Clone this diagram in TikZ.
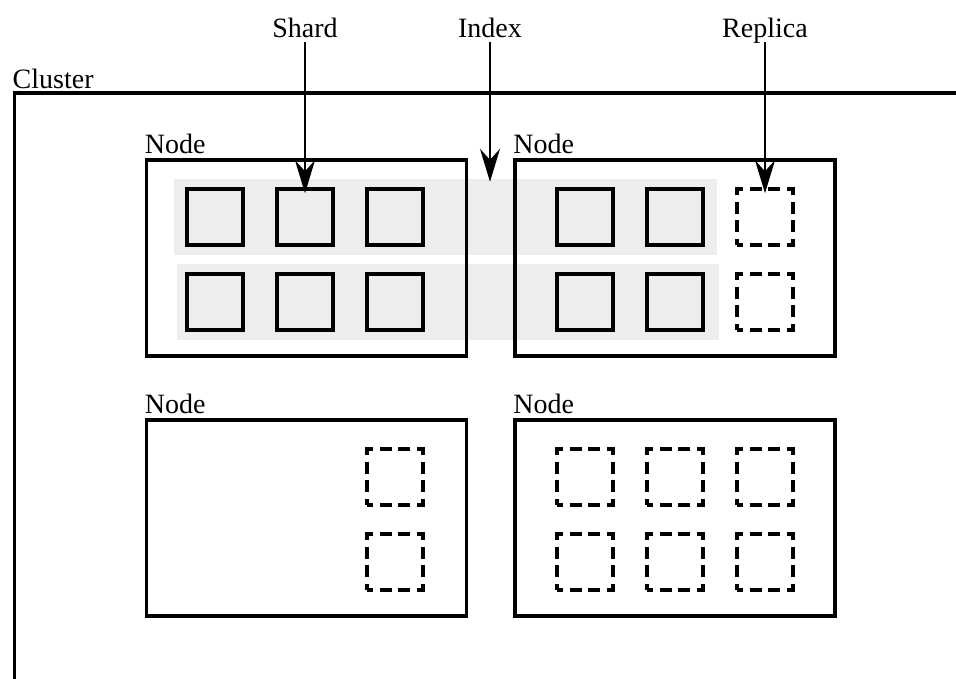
\documentclass[tikz,border=0pt]{standalone}
\usepackage{fontspec}
\setmainfont{Liberation Serif}
\usetikzlibrary{arrows.meta}

\begin{document}
\begin{tikzpicture}[x=1pt, y=-1pt,
  every node/.style={font=\fontsize{28}{32}\selectfont},
  nodebox/.style={draw, line width=3.5pt, minimum width=320pt, minimum height=196pt, inner sep=0pt},
  shardbox/.style={draw, line width=3.5pt, minimum size=56pt, inner sep=0pt},
  replicabox/.style={shardbox, dash pattern=on 12pt off 6.667pt, dash phase=6pt},
  band/.style={fill=black!7, inner sep=0pt, minimum height=76pt},
  caption/.style={anchor=base west, inner sep=0pt},
  title/.style={anchor=base, inner sep=0pt},
  pointer/.style={line width=2.2pt, -{Stealth[length=33pt, width=20pt, inset=11pt]}},
]
\useasboundingbox (0,0) rectangle (956,678);
\clip (0,0) rectangle (956,678);

% index bands spanning the two upper nodes
\node[band, minimum width=543pt] (band1) at (445.5,217) {};
\node[band, minimum width=542pt] (band2) at (448,302) {};

% cluster frame, running past the right and bottom edges
\coordinate (clustercorner) at (14.5,93);
\draw[line width=3.5pt] (clustercorner) rectangle (1000,720);
\node[caption] (clusterlabel) at ([xshift=-2pt, yshift=5pt]clustercorner) {Cluster};

% the four nodes
\node[nodebox] (n1) at (306.5,258) {};
\node[nodebox] (n2) at (675,258) {};
\node[nodebox] (n3) at (306.5,518) {};
\node[nodebox] (n4) at (675,518) {};
\foreach \n in {n1,n2,n3,n4}
  \node[caption] (\n label) at ([yshift=5pt]\n.north west) {Node};

% primary shards
\node[shardbox] (s11) at (215,217) {};
\node[shardbox] (s12) at (305,217) {};
\node[shardbox] (s13) at (395,217) {};
\node[shardbox] (s21) at (215,302) {};
\node[shardbox] (s22) at (305,302) {};
\node[shardbox] (s23) at (395,302) {};
\node[shardbox] (s14) at (585,217) {};
\node[shardbox] (s15) at (675,217) {};
\node[shardbox] (s24) at (585,302) {};
\node[shardbox] (s25) at (675,302) {};

% replicas
\node[replicabox] (r16) at (765,217) {};
\node[replicabox] (r26) at (765,302) {};
\node[replicabox] (r31) at (395,477) {};
\node[replicabox] (r32) at (395,562) {};
\node[replicabox] (r41) at (585,477) {};
\node[replicabox] (r42) at (675,477) {};
\node[replicabox] (r43) at (765,477) {};
\node[replicabox] (r44) at (585,562) {};
\node[replicabox] (r45) at (675,562) {};
\node[replicabox] (r46) at (765,562) {};

% labels with their pointers
\node[title] (shard) at (305,37) {Shard};
\node[title] (index) at (490,37) {Index};
\node[title] (replica) at (765,37) {Replica};

\draw[pointer, shorten <=5pt, shorten >=-6pt] (shard.base) -- (s12.north);
\draw[pointer, shorten <=5pt, shorten >=-3pt] (index.base) -- (index.base |- band1.north);
\draw[pointer, shorten <=5pt, shorten >=-6pt] (replica.base) -- (r16.north);
\end{tikzpicture}
\end{document}
